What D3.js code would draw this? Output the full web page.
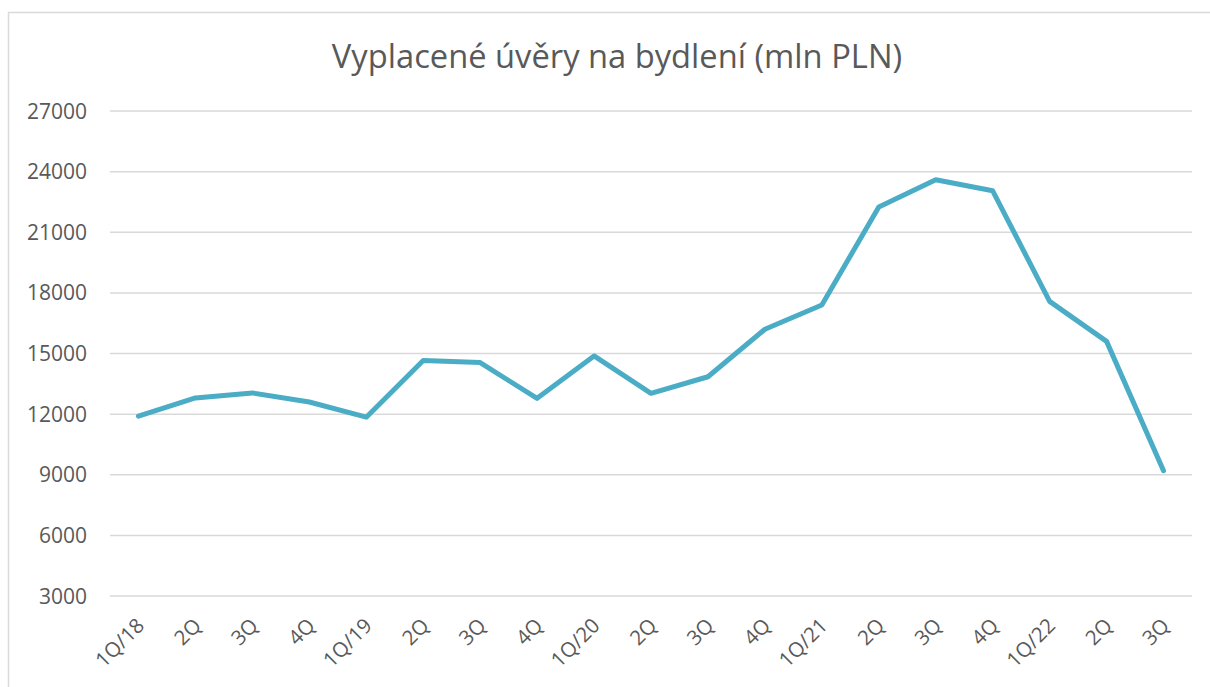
<!DOCTYPE html>
<html>
<head>
<meta charset="utf-8">
<script src="https://cdn.jsdelivr.net/npm/d3@7"></script>
<style>
  body { margin: 0; background: #fff; }
  svg { display: block; }
</style>
</head>
<body>
<div id="chart"></div>
<script>
const chartTitle = "Vyplacené úvěry na bydlení (mln PLN)";
const quarters = ["1Q/18", "2Q", "3Q", "4Q", "1Q/19", "2Q", "3Q", "4Q", "1Q/20", "2Q", "3Q", "4Q", "1Q/21", "2Q", "3Q", "4Q", "1Q/22", "2Q", "3Q"];
const loans = [11900, 12800, 13050, 12600, 11850, 14650, 14550, 12780, 14880, 13030, 13850, 16200, 17400, 22250, 23600, 23050, 17580, 15600, 9200];
const yTicks = [3000, 6000, 9000, 12000, 15000, 18000, 21000, 24000, 27000];

const width = 1210, height = 687;
const fontFamily = "'Open Sans', sans-serif";

const svg = d3.select("#chart")
  .append("svg")
  .attr("width", width)
  .attr("height", height);

// chart area border
svg.append("rect")
  .attr("x", 8.5)
  .attr("y", 12.5)
  .attr("width", 1210)
  .attr("height", 700)
  .attr("fill", "none")
  .attr("stroke", "#d9d9d9")
  .attr("stroke-width", 1.5);

const plotLeft = 110, plotRight = 1192;

// index-based band so repeated labels ("2Q") keep their own slot
const x = d3.scaleBand()
  .domain(d3.range(quarters.length))
  .range([plotLeft, plotRight]);

const y = d3.scaleLinear()
  .domain([3000, 27000])
  .range([596, 111]);

// gridlines
svg.append("g")
  .selectAll("line")
  .data(yTicks)
  .enter().append("line")
  .attr("x1", plotLeft)
  .attr("x2", plotRight)
  .attr("y1", d => y(d))
  .attr("y2", d => y(d))
  .attr("stroke", "#d9d9d9")
  .attr("stroke-width", 1.5);

// y labels
svg.append("g")
  .selectAll("text")
  .data(yTicks)
  .enter().append("text")
  .attr("x", 87)
  .attr("y", d => y(d))
  .attr("dy", "0.36em")
  .attr("text-anchor", "end")
  .attr("font-family", fontFamily)
  .attr("font-size", 21)
  .attr("fill", "#595959")
  .text(d => d);

// x labels, rotated
svg.append("g")
  .selectAll("text")
  .data(quarters)
  .enter().append("text")
  .attr("transform", (d, i) => "translate(" + (x(i) + x.bandwidth() / 2 + 7) + ",627)rotate(-45)")
  .attr("text-anchor", "end")
  .attr("font-family", fontFamily)
  .attr("font-size", 20.5)
  .attr("fill", "#595959")
  .text(d => d);

// line
const line = d3.line()
  .x((d, i) => x(i) + x.bandwidth() / 2)
  .y(d => y(d));

svg.append("path")
  .datum(loans)
  .attr("d", line)
  .attr("fill", "none")
  .attr("stroke", "#4bacc6")
  .attr("stroke-width", 5)
  .attr("stroke-linejoin", "round")
  .attr("stroke-linecap", "round");

// title
svg.append("text")
  .attr("x", 617)
  .attr("y", 68)
  .attr("text-anchor", "middle")
  .attr("font-family", fontFamily)
  .attr("font-size", 32.7)
  .attr("fill", "#595959")
  .text(chartTitle);
</script>
</body>
</html>
